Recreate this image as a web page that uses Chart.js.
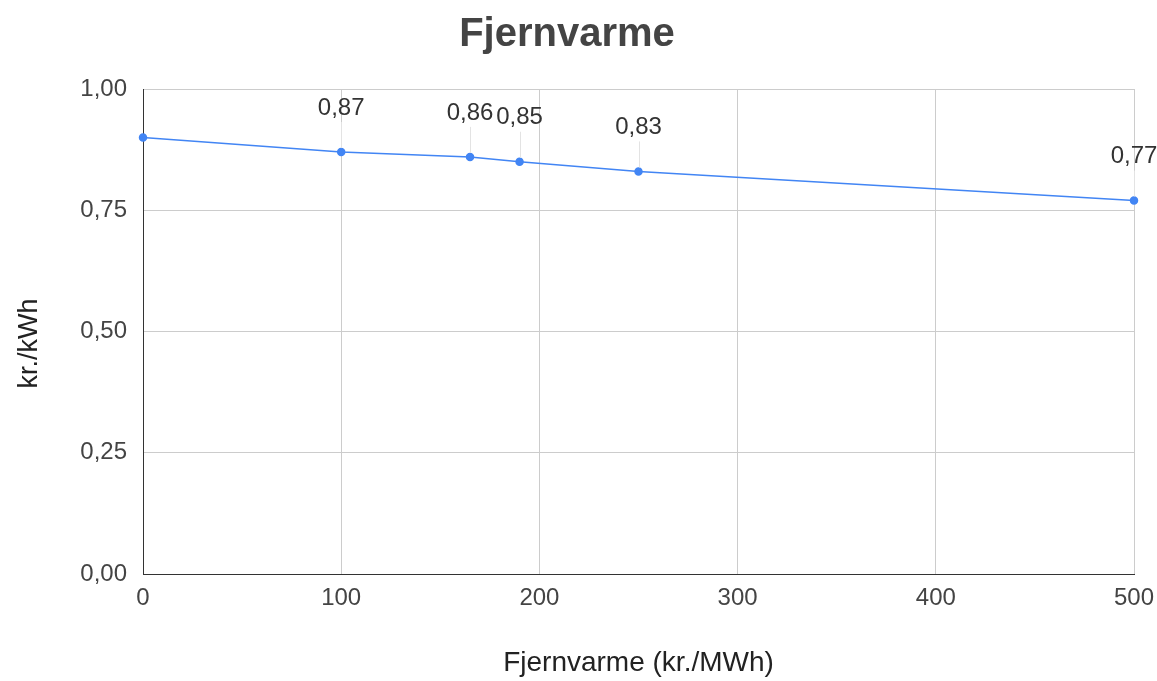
<!DOCTYPE html>
<html>
<head>
<meta charset="utf-8">
<script src="https://cdn.jsdelivr.net/npm/chart.js@4/dist/chart.umd.min.js"></script>
<style>
  html, body { margin: 0; padding: 0; background: #fff; }
  #wrap { width: 1157px; height: 681px; }
</style>
</head>
<body>
<div id="wrap"><canvas id="lineChart"></canvas></div>
<script>
// values
var prices = [0, 100, 165, 190, 250, 500];        // kr./MWh
var costs = [0.90, 0.87, 0.86, 0.85, 0.83, 0.77];  // kr./kWh
var labelled = [false, true, true, true, true, true];
var xTicks = [0, 100, 200, 300, 400, 500];
var yTicks = [0, 0.25, 0.5, 0.75, 1];

function fmt(v) {
    return v.toFixed(2).replace('.', ',');
}

var points = [];
for (var i = 0; i < prices.length; i++) {
    points.push({ x: prices[i], y: costs[i] });
}

// labels above points with a thin leader line
var pointLabels = {
    id: 'pointLabels',
    afterDatasetsDraw: function (chart) {
        var ctx = chart.ctx;
        var meta = chart.getDatasetMeta(0);
        ctx.save();
        ctx.font = '24px "Liberation Sans", Arial';
        ctx.textAlign = 'center';
        ctx.textBaseline = 'middle';
        for (var i = 0; i < meta.data.length; i++) {
            if (!labelled[i]) continue;
            var p = meta.data[i];
            ctx.strokeStyle = '#e3e3e3';
            ctx.lineWidth = 1;
            ctx.beginPath();
            ctx.moveTo(Math.round(p.x) + 0.5, p.y - 4);
            ctx.lineTo(Math.round(p.x) + 0.5, p.y - 30);
            ctx.stroke();
            ctx.fillStyle = '#333333';
            ctx.fillText(fmt(costs[i]), p.x, p.y - 44);
        }
        ctx.restore();
    }
};

// y axis title, sits a bit below the plot centre like in the original
var yTitle = {
    id: 'yTitle',
    afterDraw: function (chart) {
        var ctx = chart.ctx;
        var area = chart.chartArea;
        ctx.save();
        ctx.translate(30, (area.top + area.bottom) / 2 + 12);
        ctx.rotate(-Math.PI / 2);
        ctx.font = '27px "Liberation Sans", Arial';
        ctx.fillStyle = '#222222';
        ctx.textAlign = 'center';
        ctx.textBaseline = 'middle';
        ctx.fillText('kr./kWh', 0, 0);
        ctx.restore();
    }
};

Chart.defaults.font.family = '"Liberation Sans", Arial';
Chart.defaults.color = '#444444';

var chart = new Chart(document.getElementById('lineChart'), {
    type: 'scatter',
    data: {
        datasets: [{
            data: points,
            showLine: true,
            clip: false,
            borderColor: '#4285f4',
            backgroundColor: '#4285f4',
            borderWidth: 1.5,
            pointRadius: 3.5,
            pointHoverRadius: 3.5
        }]
    },
    options: {
        responsive: true,
        maintainAspectRatio: false,
        animation: false,
        layout: { padding: { left: 0, right: 23, top: 0, bottom: 0 } },
        plugins: {
            legend: { display: false },
            tooltip: { enabled: false },
            title: {
                display: true,
                text: 'Fjernvarme',
                color: '#444444',
                font: { size: 40, weight: 'bold' },
                padding: { top: 11, bottom: 30 }
            }
        },
        scales: {
            x: {
                type: 'linear',
                min: 0,
                max: 500,
                afterBuildTicks: function (s) { s.ticks = xTicks.map(function (v) { return { value: v }; }); },
                afterFit: function (s) { s.height = 107; s.paddingRight = 0; s.paddingLeft = 0; },
                ticks: { font: { size: 24 }, color: '#444444', padding: 10 },
                grid: { color: '#cccccc', drawTicks: false },
                border: { color: '#333333', width: 1 },
                title: {
                    display: true,
                    text: 'Fjernvarme (kr./MWh)',
                    color: '#222222',
                    font: { size: 28 },
                    padding: { top: 4, bottom: 1 }
                }
            },
            y: {
                min: 0,
                max: 1,
                afterBuildTicks: function (s) { s.ticks = yTicks.map(function (v) { return { value: v }; }); },
                afterFit: function (s) { s.width = 143; },
                ticks: {
                    font: { size: 24 },
                    color: '#444444',
                    padding: 16,
                    callback: function (v) { return fmt(v); }
                },
                grid: { color: '#cccccc', drawTicks: false },
                border: { color: '#333333', width: 1 }
            }
        }
    },
    plugins: [pointLabels, yTitle]
});
</script>
</body>
</html>
